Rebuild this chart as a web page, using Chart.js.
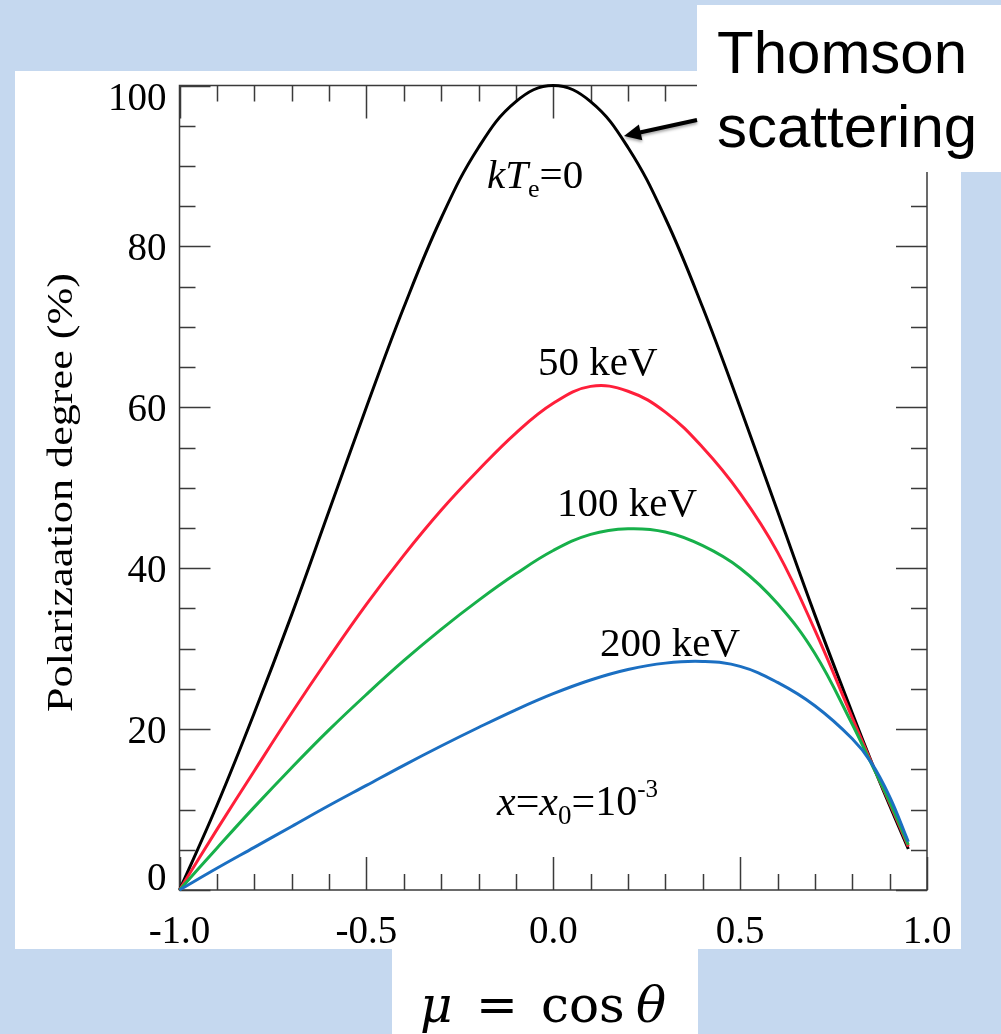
<!DOCTYPE html>
<html>
<head>
<meta charset="utf-8">
<script src="https://cdn.jsdelivr.net/npm/chart.js@4.4.0/dist/chart.umd.min.js"></script>
<style>
  html, body { margin: 0; padding: 0; background: #c5d8ef; }
  #wrap { position: absolute; left: 0; top: 0; width: 1001px; height: 1034px; }
</style>
</head>
<body>
<div id="wrap"><canvas id="polChart" width="1001" height="1034"></canvas></div>
<script>
// --- DATA ---
const mu = [-1.0, -0.9, -0.8, -0.7, -0.6, -0.5, -0.4, -0.3, -0.2, -0.1, 0.0, 0.1, 0.2, 0.3, 0.4, 0.5, 0.6, 0.7, 0.8, 0.85, 0.9, 0.95];
const polThomson = [0, 10.5, 22.0, 34.2, 47.1, 60.0, 72.4, 83.5, 92.3, 98.0, 100, 98.0, 92.3, 83.5, 72.4, 60.0, 47.1, 34.2, 22.0, 16.1, 10.5, 5.1];
const pol50 = [0, 7.5, 14.8, 22.0, 28.9, 35.5, 41.6, 47.2, 52.2, 56.8, 60.5, 62.6, 62.0, 59.4, 55.0, 49.3, 42.0, 32.3, 21.4, 16.0, 10.8, 5.4];
const pol100 = [0, 5.2, 10.3, 15.2, 19.9, 24.3, 28.5, 32.4, 36.0, 39.3, 42.2, 44.2, 44.9, 44.5, 42.8, 40.0, 35.6, 29.4, 20.6, 15.8, 11.0, 5.6];
const pol200 = [0, 2.7, 5.3, 7.9, 10.5, 13.0, 15.5, 17.9, 20.2, 22.4, 24.4, 26.1, 27.4, 28.2, 28.4, 27.8, 25.8, 22.9, 18.8, 15.9, 11.6, 6.0];

const xTickValues = [-1.0, -0.9, -0.8, -0.7, -0.6, -0.5, -0.4, -0.3, -0.2, -0.1, 0.0, 0.1, 0.2, 0.3, 0.4, 0.5, 0.6, 0.7, 0.8, 0.9, 1.0];
const xMajorTicks = [-1.0, -0.5, 0.0, 0.5, 1.0];
const xTickLabels = ['-1.0', '-0.5', '0.0', '0.5', '1.0'];
const yTickValues = [0, 5, 10, 15, 20, 25, 30, 35, 40, 45, 50, 55, 60, 65, 70, 75, 80, 85, 90, 95, 100];
const yMajorTicks = [0, 20, 40, 60, 80, 100];
const yTickLabels = ['0', '20', '40', '60', '80', '100'];

const toPoints = vals => mu.map((m, i) => ({ x: m, y: vals[i] }));

const SERIF = '"Liberation Serif", "Times New Roman", serif';

// --- PLUGINS ---
// page background and the white panels
const pageBg = {
    id: 'pageBg',
    beforeDraw(chart) {
        const c = chart.ctx;
        c.save();
        c.fillStyle = '#c5d8ef';
        c.fillRect(0, 0, chart.width, chart.height);
        c.fillStyle = '#ffffff';
        c.fillRect(15, 71, 946, 878);
        c.fillRect(392, 949, 306, 85);
        c.restore();
    }
};

// frame with inward ticks on all four sides + tick labels
const frame = {
    id: 'frame',
    beforeDatasetsDraw(chart) {
        const { ctx, chartArea: a, scales: { x, y } } = chart;
        ctx.save();
        ctx.strokeStyle = '#3a3a3a';
        ctx.lineWidth = 1.5;
        ctx.strokeRect(a.left, a.top, a.right - a.left, a.bottom - a.top);
        ctx.beginPath();
        xTickValues.forEach(v => {
            const px = Math.round(x.getPixelForValue(v)) + 0.5;
            const len = xMajorTicks.includes(v) ? 33 : 16;
            ctx.moveTo(px, a.bottom); ctx.lineTo(px, a.bottom - len);
            ctx.moveTo(px, a.top); ctx.lineTo(px, a.top + len);
        });
        yTickValues.forEach(v => {
            const py = Math.round(y.getPixelForValue(v)) + 0.5;
            const len = yMajorTicks.includes(v) ? 31 : 16;
            ctx.moveTo(a.left, py); ctx.lineTo(a.left + len, py);
            ctx.moveTo(a.right, py); ctx.lineTo(a.right - len, py);
        });
        ctx.stroke();

        ctx.fillStyle = '#000';
        ctx.font = '39px ' + SERIF;
        ctx.textBaseline = 'alphabetic';
        ctx.textAlign = 'center';
        xMajorTicks.forEach((v, i) => {
            ctx.fillText(xTickLabels[i], x.getPixelForValue(v), a.bottom + 53);
        });
        ctx.textAlign = 'right';
        yMajorTicks.forEach((v, i) => {
            const py = y.getPixelForValue(v);
            const base = Math.min(Math.max(py + 13.5, a.top + 24.5), a.bottom);
            ctx.fillText(yTickLabels[i], a.left - 13, base);
        });

        // y axis title (stretched along its length like the original)
        ctx.save();
        ctx.translate(72, 492.5);
        ctx.rotate(-Math.PI / 2);
        ctx.font = '36px ' + SERIF;
        const title = 'Polarizaation degree (%)';
        const w = ctx.measureText(title).width;
        ctx.scale(439 / w, 1);
        ctx.textAlign = 'center';
        ctx.fillText(title, 0, 0);
        ctx.restore();
        ctx.restore();
    }
};

// text annotations, Thomson call-out, x axis formula
const notes = {
    id: 'notes',
    afterDraw(chart) {
        const ctx = chart.ctx;
        ctx.save();
        ctx.fillStyle = '#000';
        ctx.textAlign = 'left';
        ctx.textBaseline = 'alphabetic';

        // kTe=0
        let cx = 487;
        ctx.font = 'italic 41px ' + SERIF;
        ctx.fillText('kT', cx, 188); cx += ctx.measureText('kT').width;
        ctx.font = '26px ' + SERIF;
        ctx.fillText('e', cx, 197); cx += ctx.measureText('e').width;
        ctx.font = '41px ' + SERIF;
        ctx.fillText('=0', cx, 188);

        ctx.font = '41px ' + SERIF;
        ctx.fillText('50 keV', 538, 375);
        ctx.fillText('100 keV', 557, 516);
        ctx.fillText('200 keV', 600, 656);

        // x=x0=10^-3
        cx = 497;
        ctx.font = 'italic 42px ' + SERIF;
        ctx.fillText('x', cx, 815); cx += ctx.measureText('x').width;
        ctx.font = '42px ' + SERIF;
        ctx.fillText('=', cx, 815); cx += ctx.measureText('=').width;
        ctx.font = 'italic 42px ' + SERIF;
        ctx.fillText('x', cx, 815); cx += ctx.measureText('x').width;
        ctx.font = '27px ' + SERIF;
        ctx.fillText('0', cx, 824); cx += ctx.measureText('0').width;
        ctx.font = '42px ' + SERIF;
        ctx.fillText('=10', cx, 815); cx += ctx.measureText('=10').width;
        ctx.font = '25px ' + SERIF;
        ctx.fillText('-3', cx, 797);

        // Thomson scattering call-out box
        ctx.fillStyle = '#ffffff';
        ctx.fillRect(697, 5, 304, 167);
        ctx.fillStyle = '#000';
        ctx.font = '60px "Liberation Sans", Arial, sans-serif';
        ctx.fillText('Thomson', 717, 73);
        ctx.fillText('scattering', 717, 147);

        // arrow
        ctx.save();
        ctx.shadowColor = 'rgba(0,0,0,0.35)';
        ctx.shadowBlur = 3;
        ctx.shadowOffsetY = 2;
        const x0 = 697, y0 = 120, x1 = 624, y1 = 136;
        const dx = x1 - x0, dy = y1 - y0, L = Math.hypot(dx, dy);
        const ux = dx / L, uy = dy / L;
        const hx = x1 - ux * 17, hy = y1 - uy * 17;
        ctx.strokeStyle = '#000';
        ctx.lineWidth = 4;
        ctx.beginPath();
        ctx.moveTo(x0, y0);
        ctx.lineTo(hx + ux * 2, hy + uy * 2);
        ctx.stroke();
        ctx.beginPath();
        ctx.moveTo(x1, y1);
        ctx.lineTo(hx - uy * 8, hy + ux * 8);
        ctx.lineTo(hx + uy * 8, hy - ux * 8);
        ctx.closePath();
        ctx.fill();
        ctx.restore();

        // mu = cos theta
        const MATH = '"DejaVu Serif", serif';
        ctx.font = 'italic 50px ' + MATH;
        ctx.fillText('\u03BC', 420, 1022);
        ctx.font = '50px ' + MATH;
        ctx.fillText('=', 476, 1022);
        ctx.fillText('cos', 541, 1022);
        ctx.font = 'italic 50px ' + MATH;
        ctx.fillText('\u03B8', 636, 1022);
        ctx.restore();
    }
};

// --- CHART ---
const ctxPol = document.getElementById('polChart').getContext('2d');
const polChart = new Chart(ctxPol, {
    type: 'line',
    data: {
        datasets: [
            { label: 'kTe=0', data: toPoints(polThomson), borderColor: '#000000', order: 3 },
            { label: '50 keV', data: toPoints(pol50), borderColor: '#ff1f3a', order: 2 },
            { label: '100 keV', data: toPoints(pol100), borderColor: '#17b04a', order: 1 },
            { label: '200 keV', data: toPoints(pol200), borderColor: '#1b6fc2', order: 0 }
        ]
    },
    options: {
        responsive: false,
        animation: false,
        layout: { padding: { left: 179.5, right: 74, top: 85.5, bottom: 144 } },
        elements: {
            point: { radius: 0 },
            line: { borderWidth: 3, tension: 0.4, fill: false }
        },
        datasets: { line: { clip: 4 } },
        scales: {
            x: { type: 'linear', min: -1, max: 1, display: false },
            y: { type: 'linear', min: 0, max: 100, display: false }
        },
        plugins: { legend: { display: false }, tooltip: { enabled: false } }
    },
    plugins: [pageBg, frame, notes]
});
</script>
</body>
</html>
